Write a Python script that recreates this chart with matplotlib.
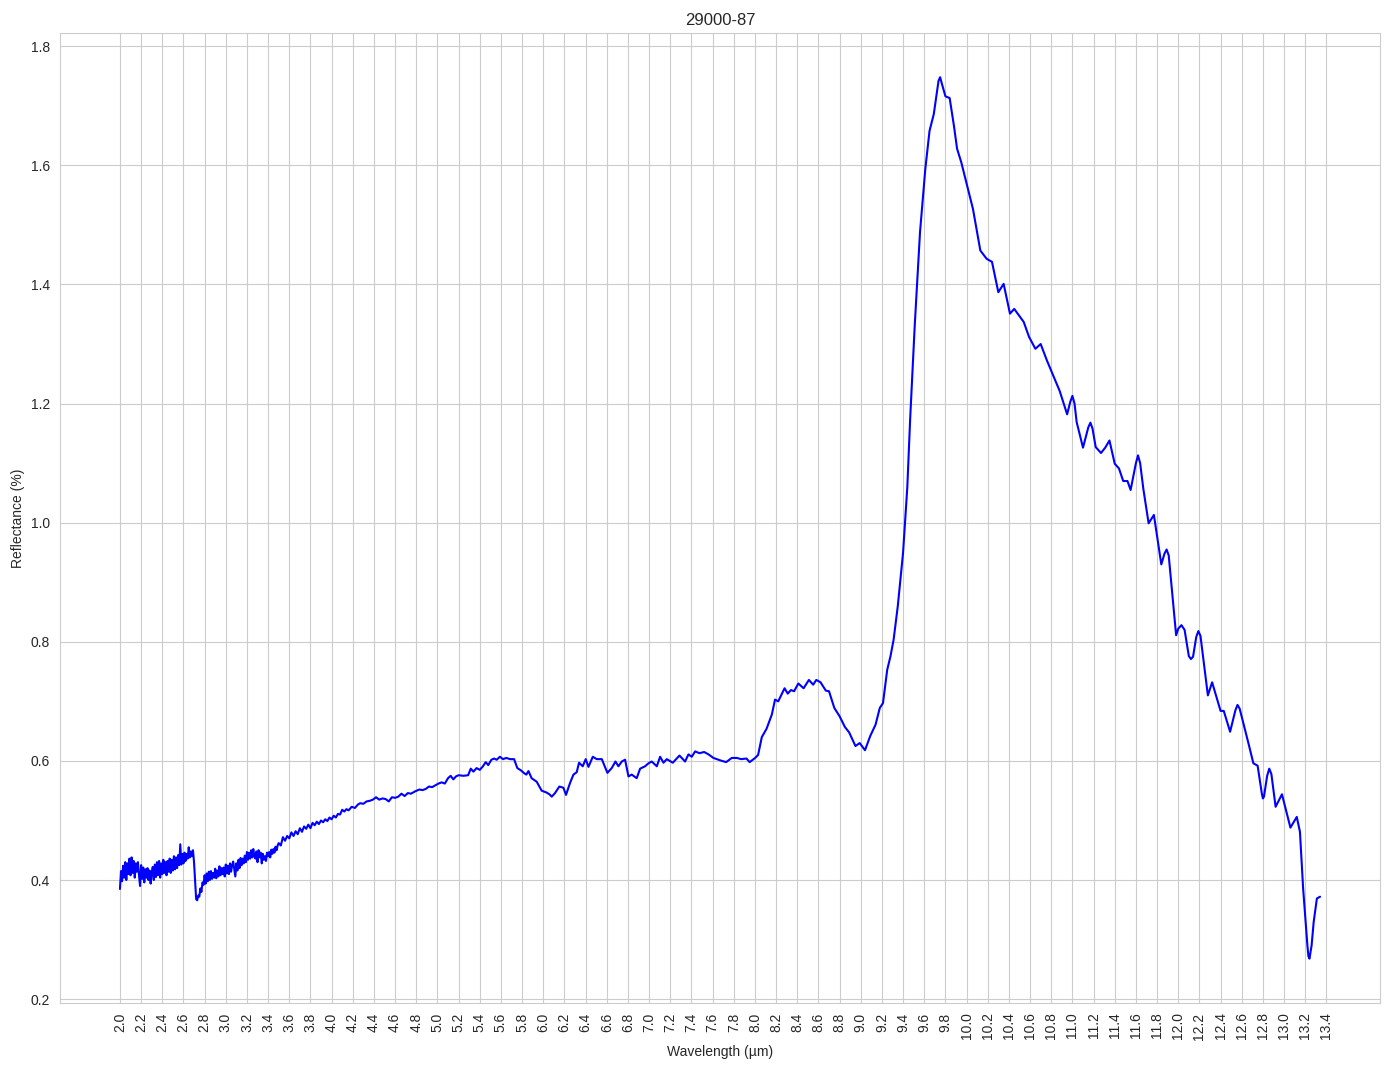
import numpy as np
import matplotlib
matplotlib.use("Agg")
import matplotlib.pyplot as plt
import seaborn as sns

sample_name = "29000-87"

# short-wave part (noisy detector region), 0.01 um sampling
wl_short = [2.00, 2.01, 2.02, 2.03, 2.04, 2.05, 2.06, 2.07, 2.08, 2.09,
            2.10, 2.11, 2.12, 2.13, 2.14, 2.15, 2.16, 2.17, 2.18, 2.19,
            2.20, 2.21, 2.22, 2.23, 2.24, 2.25, 2.26, 2.27, 2.28, 2.29,
            2.30, 2.31, 2.32, 2.33, 2.34, 2.35, 2.36, 2.37, 2.38, 2.39,
            2.40, 2.41, 2.42, 2.43, 2.44, 2.45, 2.46, 2.47, 2.48, 2.49,
            2.50, 2.51, 2.52, 2.53, 2.54, 2.55, 2.56, 2.57, 2.58, 2.59,
            2.60, 2.61, 2.62, 2.63, 2.64, 2.65, 2.66, 2.67, 2.68, 2.69,
            2.70, 2.71, 2.72, 2.73, 2.74, 2.75, 2.76, 2.77, 2.78, 2.79,
            2.80, 2.81, 2.82, 2.83, 2.84, 2.85, 2.86, 2.87, 2.88, 2.89,
            2.90, 2.91, 2.92, 2.93, 2.94, 2.95, 2.96, 2.97, 2.98, 2.99,
            3.00, 3.01, 3.02, 3.03, 3.04, 3.05, 3.06, 3.07, 3.08, 3.09,
            3.10, 3.11, 3.12, 3.13, 3.14, 3.15, 3.16, 3.17, 3.18, 3.19,
            3.20, 3.21, 3.22, 3.23, 3.24, 3.25, 3.26, 3.27, 3.28, 3.29,
            3.30, 3.31, 3.32, 3.33, 3.34, 3.35, 3.36, 3.37, 3.38, 3.39,
            3.40, 3.41, 3.42, 3.43, 3.44, 3.45, 3.46, 3.47, 3.48, 3.49]
refl_short = [0.385, 0.415, 0.398, 0.424, 0.404, 0.430, 0.400, 0.428, 0.410, 0.436,
              0.408, 0.438, 0.412, 0.432, 0.404, 0.428, 0.414, 0.430, 0.408, 0.390,
              0.425, 0.402, 0.421, 0.396, 0.418, 0.404, 0.420, 0.400, 0.416, 0.394,
              0.412, 0.422, 0.400, 0.426, 0.405, 0.430, 0.408, 0.432, 0.404, 0.428,
              0.410, 0.434, 0.412, 0.430, 0.408, 0.432, 0.414, 0.436, 0.412, 0.434,
              0.416, 0.440, 0.418, 0.438, 0.420, 0.442, 0.425, 0.460, 0.426, 0.444,
              0.428, 0.446, 0.432, 0.444, 0.436, 0.455, 0.438, 0.448, 0.440, 0.450,
              0.430, 0.400, 0.368, 0.366, 0.374, 0.372, 0.386, 0.380, 0.396, 0.392,
              0.408, 0.394, 0.411, 0.398, 0.414, 0.400, 0.415, 0.402, 0.412, 0.404,
              0.419, 0.403, 0.416, 0.406, 0.423, 0.408, 0.420, 0.410, 0.421, 0.406,
              0.426, 0.411, 0.424, 0.410, 0.428, 0.414, 0.425, 0.431, 0.418, 0.406,
              0.428, 0.416, 0.434, 0.420, 0.437, 0.425, 0.436, 0.428, 0.441, 0.430,
              0.447, 0.434, 0.446, 0.436, 0.450, 0.438, 0.452, 0.440, 0.436, 0.448,
              0.430, 0.450, 0.438, 0.446, 0.428, 0.444, 0.434, 0.440, 0.432, 0.446,
              0.440, 0.447, 0.438, 0.451, 0.444, 0.452, 0.446, 0.456, 0.450, 0.458]

# mid-IR plateau
wl_mid = [3.500, 3.520, 3.540, 3.560, 3.580, 3.600, 3.620, 3.640, 3.660, 3.680,
          3.700, 3.720, 3.740, 3.760, 3.780, 3.800, 3.820, 3.840, 3.860, 3.880,
          3.900, 3.920, 3.940, 3.960, 3.980, 4.000, 4.020, 4.040, 4.060, 4.080,
          4.100, 4.120, 4.140, 4.160, 4.190, 4.220, 4.250, 4.270, 4.300, 4.330,
          4.360, 4.390, 4.420, 4.450, 4.480, 4.510, 4.540, 4.570, 4.600, 4.630,
          4.660, 4.690, 4.720, 4.750, 4.790, 4.830, 4.860, 4.890, 4.920, 4.950,
          4.980, 5.010, 5.040, 5.070, 5.100, 5.125, 5.150, 5.175, 5.200, 5.245,
          5.290, 5.315, 5.340, 5.370, 5.400, 5.430, 5.456, 5.480, 5.510, 5.535,
          5.560, 5.590, 5.620, 5.650, 5.686, 5.724, 5.755, 5.790, 5.815, 5.840,
          5.860, 5.890, 5.938, 5.985, 6.030, 6.058, 6.080, 6.111, 6.152, 6.190,
          6.215, 6.253, 6.285, 6.316, 6.338, 6.373, 6.401, 6.427, 6.468, 6.505,
          6.553, 6.606, 6.647, 6.682, 6.710, 6.742, 6.773, 6.805, 6.836, 6.883,
          6.915, 6.962, 6.994, 7.025, 7.073, 7.104, 7.136, 7.167, 7.224, 7.287,
          7.340, 7.372, 7.403, 7.435, 7.476, 7.520, 7.561, 7.608, 7.671, 7.728,
          7.781, 7.829, 7.870, 7.920, 7.950]
refl_mid = [0.462, 0.458, 0.472, 0.466, 0.474, 0.470, 0.480, 0.474, 0.482, 0.477,
            0.487, 0.481, 0.490, 0.486, 0.493, 0.487, 0.496, 0.492, 0.498, 0.494,
            0.500, 0.497, 0.502, 0.499, 0.505, 0.502, 0.508, 0.505, 0.511, 0.510,
            0.518, 0.515, 0.519, 0.517, 0.523, 0.521, 0.527, 0.529, 0.528, 0.532,
            0.533, 0.535, 0.539, 0.535, 0.537, 0.536, 0.532, 0.539, 0.538, 0.540,
            0.545, 0.541, 0.546, 0.545, 0.549, 0.552, 0.551, 0.553, 0.557, 0.556,
            0.559, 0.562, 0.564, 0.562, 0.571, 0.575, 0.569, 0.574, 0.576, 0.575,
            0.576, 0.587, 0.582, 0.588, 0.585, 0.591, 0.598, 0.593, 0.602, 0.604,
            0.602, 0.607, 0.603, 0.605, 0.603, 0.603, 0.588, 0.584, 0.580, 0.577,
            0.583, 0.571, 0.565, 0.550, 0.547, 0.544, 0.540, 0.546, 0.557, 0.555,
            0.543, 0.563, 0.577, 0.581, 0.597, 0.591, 0.603, 0.590, 0.607, 0.603,
            0.603, 0.580, 0.588, 0.599, 0.591, 0.599, 0.602, 0.574, 0.577, 0.571,
            0.587, 0.591, 0.596, 0.599, 0.591, 0.607, 0.597, 0.603, 0.597, 0.609,
            0.599, 0.611, 0.607, 0.616, 0.613, 0.615, 0.611, 0.605, 0.601, 0.598,
            0.605, 0.605, 0.603, 0.604, 0.598]

# reststrahlen band
wl_band = [8.002, 8.030, 8.065, 8.110, 8.160, 8.190, 8.220, 8.280, 8.310, 8.340,
           8.370, 8.410, 8.460, 8.510, 8.550, 8.580, 8.620, 8.670, 8.700, 8.750,
           8.800, 8.850, 8.890, 8.950, 8.990, 9.040, 9.090, 9.140, 9.180, 9.210,
           9.250, 9.280, 9.310, 9.350, 9.400, 9.440, 9.467, 9.510, 9.560, 9.610,
           9.650, 9.690, 9.720, 9.735, 9.750, 9.765, 9.800, 9.840, 9.880, 9.910,
           9.950, 10.020, 10.060, 10.130, 10.190, 10.240, 10.300, 10.350, 10.410, 10.450,
           10.540, 10.590, 10.650, 10.700, 10.760, 10.880, 10.950, 10.980, 11.000, 11.020,
           11.040, 11.100, 11.150, 11.170, 11.190, 11.220, 11.270, 11.310, 11.350, 11.400,
           11.440, 11.480, 11.520, 11.550, 11.600, 11.620, 11.640, 11.670, 11.720, 11.770,
           11.840, 11.870, 11.890, 11.910, 11.980, 12.000, 12.030, 12.060, 12.100, 12.120,
           12.140, 12.170, 12.190, 12.210, 12.280, 12.320, 12.400, 12.430, 12.490, 12.540,
           12.560, 12.580, 12.660, 12.710, 12.750, 12.790, 12.800, 12.810, 12.840, 12.860,
           12.880, 12.920, 12.980, 13.060, 13.120, 13.150, 13.180, 13.220, 13.230, 13.240,
           13.260, 13.280, 13.310, 13.340]
refl_band = [0.605, 0.610, 0.640, 0.654, 0.678, 0.703, 0.700, 0.722, 0.713, 0.719,
             0.717, 0.730, 0.722, 0.736, 0.728, 0.736, 0.732, 0.718, 0.717, 0.689,
             0.675, 0.657, 0.648, 0.625, 0.630, 0.618, 0.642, 0.661, 0.689, 0.697,
             0.753, 0.775, 0.803, 0.860, 0.950, 1.060, 1.175, 1.331, 1.488, 1.594,
             1.658, 1.686, 1.723, 1.742, 1.748, 1.738, 1.716, 1.713, 1.667, 1.628,
             1.605, 1.555, 1.527, 1.457, 1.443, 1.438, 1.387, 1.401, 1.351, 1.359,
             1.337, 1.312, 1.292, 1.300, 1.272, 1.221, 1.182, 1.203, 1.213, 1.200,
             1.169, 1.126, 1.160, 1.168, 1.158, 1.127, 1.117, 1.126, 1.138, 1.099,
             1.091, 1.070, 1.070, 1.055, 1.100, 1.113, 1.100, 1.057, 0.999, 1.013,
             0.930, 0.948, 0.955, 0.945, 0.811, 0.822, 0.828, 0.820, 0.776, 0.771,
             0.775, 0.808, 0.818, 0.810, 0.710, 0.732, 0.684, 0.684, 0.649, 0.685,
             0.694, 0.688, 0.632, 0.596, 0.592, 0.545, 0.537, 0.540, 0.575, 0.587,
             0.578, 0.523, 0.544, 0.488, 0.506, 0.481, 0.386, 0.291, 0.272, 0.268,
             0.290, 0.330, 0.369, 0.372]

wavelength = np.array(wl_short + wl_mid + wl_band)
reflectance = np.array(refl_short + refl_mid + refl_band)

xticks = np.round(np.arange(2.0, 13.41, 0.2), 1)

sns.set_style("whitegrid")
plt.rcParams['font.family'] = ['Liberation Sans', 'DejaVu Sans']

fig, ax = plt.subplots(figsize=(13.94, 10.69), dpi=100)
fig.subplots_adjust(left=0.043, right=0.990, top=0.969, bottom=0.062)

ax.plot(wavelength, reflectance, color='blue', linewidth=1.5)

ax.set_xticks(xticks)
ax.set_xticklabels(["{0:.1f}".format(t) for t in xticks], rotation=90)
ax.set_title(sample_name, fontsize=12)
ax.set_xlabel("Wavelength (µm)")
ax.set_ylabel("Reflectance (%)")

fig.savefig("out.png", dpi=100)
